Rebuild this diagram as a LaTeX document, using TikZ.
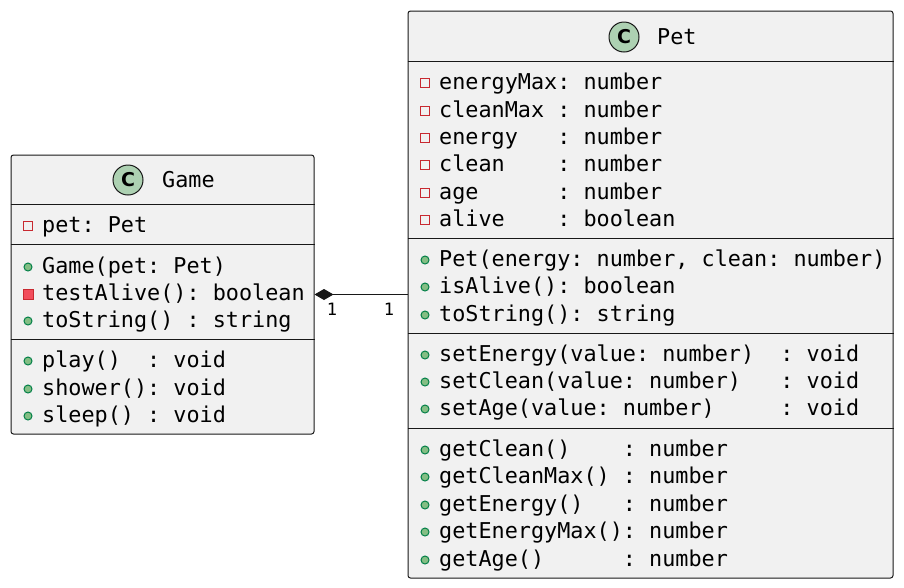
\documentclass[tikz,border=0pt]{standalone}
\usepackage{fontspec}
\setmonofont{DejaVu Sans Mono}
\setsansfont{DejaVu Sans}
\usetikzlibrary{arrows.meta}
\definecolor{ink}{HTML}{181818}
\definecolor{classbg}{HTML}{F1F1F1}
\definecolor{spotbg}{HTML}{ADD1B2}
\definecolor{privline}{HTML}{C82930}
\definecolor{privfill}{HTML}{F24D5C}
\definecolor{publine}{HTML}{038048}
\definecolor{pubfill}{HTML}{84BE84}
\newcommand\membfont{\fontsize{21.8pt}{26pt}\selectfont\ttfamily}
\newcommand\multfont{\fontsize{17pt}{20pt}\selectfont\ttfamily}
\tikzset{
  classbox/.style={draw=ink, fill=classbg, line width=1pt, rounded corners=2.5pt, inner sep=0pt},
  spot/.style={circle, draw=ink, fill=spotbg, line width=1pt, minimum size=30pt, inner sep=0pt, font=\fontsize{19pt}{19pt}\selectfont\sffamily\bfseries},
  member/.style={anchor=base west, inner sep=0pt, font=\membfont},
  sep/.style={draw=ink, line width=1pt},
  pub/.style={circle, draw=publine, fill=pubfill, line width=1pt, minimum size=8pt, inner sep=0pt},
  privattr/.style={rectangle, draw=privline, fill=none, line width=1.2pt, minimum size=9pt, inner sep=0pt},
  privmeth/.style={rectangle, draw=privline, fill=privfill, line width=1pt, minimum size=10pt, inner sep=0pt},
  mult/.style={anchor=base, inner sep=0pt, font=\multfont}
}

\begin{document}
\begin{tikzpicture}[x=1pt, y=-1pt]
  \useasboundingbox (0,0) rectangle (904,587);
  \node[classbox, minimum width=303pt, minimum height=279pt] (game) at (162.5,294.5) {};
  \node[classbox, minimum width=485pt, minimum height=567pt] (pet) at (650.5,294.5) {};
  \node[spot] (gamespot) at (128,180) {C};
  \node[member] (gametitle) at (162,187) {Game};
  \node[spot] (petspot) at (624,37) {C};
  \node[member] (pettitle) at (657,44) {Pet};
  \foreach \y in {204, 244, 339} {\draw[sep] (game.west |- 0,\y) -- (game.east |- 0,\y);}
  \foreach \y in {61, 238, 333, 428} {\draw[sep] (pet.west |- 0,\y) -- (pet.east |- 0,\y);}
  \foreach \y/\s/\t [count=\i] in {232/privattr/{pet: Pet}, 273/pub/{Game(pet: Pet)}, 300/privmeth/{testAlive(): boolean}, 327/pub/{toString() : string}, 367/pub/{play()~~: void}, 395/pub/{shower(): void}, 422/pub/{sleep() : void}} {
    \node[\s] (gv\i) at (28,\y-6) {};
    \node[member] (gm\i) at (42,\y) {\t};
  }
  \foreach \y/\s/\t [count=\i] in {89/privattr/{energyMax: number}, 117/privattr/{cleanMax : number}, 144/privattr/{energy~~~: number}, 171/privattr/{clean~~~~: number}, 199/privattr/{age~~~~~~: number}, 226/privattr/{alive~~~~: boolean}, 266/pub/{Pet(energy: number, clean: number)}, 293/pub/{isAlive(): boolean}, 321/pub/{toString(): string}, 361/pub/{setEnergy(value: number)~~: void}, 388/pub/{setClean(value: number)~~~: void}, 415/pub/{setAge(value: number)~~~~~: void}, 456/pub/{getClean()~~~~: number}, 483/pub/{getCleanMax() : number}, 511/pub/{getEnergy()~~~: number}, 538/pub/{getEnergyMax(): number}, 566/pub/{getAge()~~~~~~: number}} {
    \node[\s] (pv\i) at (425,\y-6) {};
    \node[member] (pm\i) at (439,\y) {\t};
  }
  \draw[ink, line width=1pt, {Diamond[length=19pt, width=11pt, fill=ink]}-] (game.east) -- (pet.west);
  \node[mult] (gamemult) at (332,315) {1};
  \node[mult] (petmult) at (389,315) {1};
\end{tikzpicture}
\end{document}
